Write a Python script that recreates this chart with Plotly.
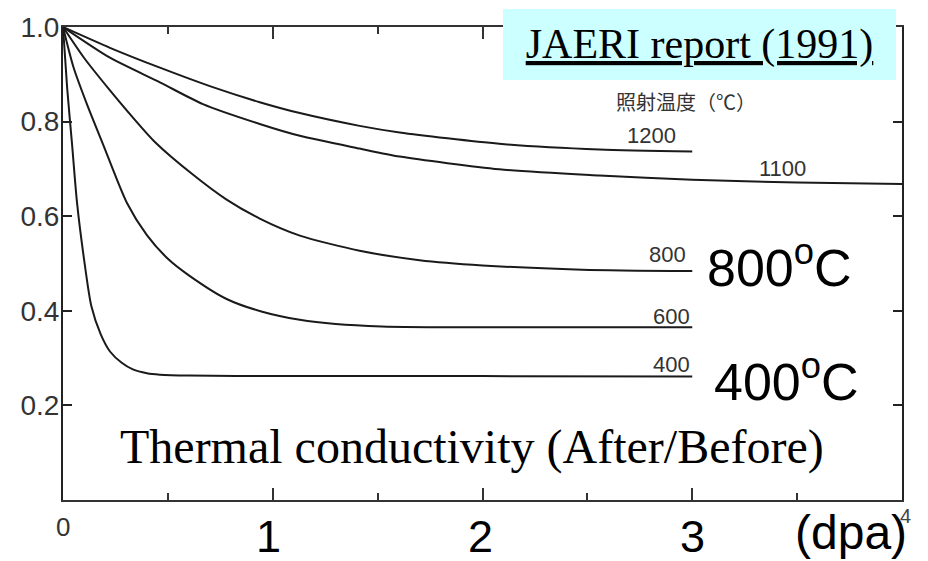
import plotly.graph_objects as go

# ---- data (dpa vs thermal conductivity ratio) ----
x400 = [0, 0.02, 0.043, 0.067, 0.10, 0.135, 0.18, 0.224, 0.28, 0.333, 0.40, 0.462, 0.60, 1.0, 2.0, 3.0]
v400 = [1.0, 0.87, 0.753, 0.628, 0.51, 0.41, 0.35, 0.314, 0.29, 0.276, 0.268, 0.265, 0.263, 0.262, 0.262, 0.261]

x600 = [0, 0.05, 0.114, 0.19, 0.305, 0.40, 0.50, 0.60, 0.78, 0.95, 1.129, 1.30, 1.52, 2.0, 3.0]
v600 = [1.0, 0.915, 0.837, 0.753, 0.628, 0.56, 0.51, 0.475, 0.425, 0.398, 0.381, 0.372, 0.367, 0.365, 0.365]

x800 = [0, 0.1, 0.224, 0.35, 0.438, 0.619, 0.78, 0.938, 1.129, 1.414, 1.70, 2.0, 2.476, 3.0]
v800 = [1.0, 0.935, 0.866, 0.80, 0.757, 0.688, 0.635, 0.595, 0.559, 0.527, 0.507, 0.496, 0.487, 0.484]

x1100 = [0, 0.224, 0.462, 0.667, 0.938, 1.129, 1.414, 1.605, 2.08, 2.557, 3.0, 3.5, 4.0]
v1100 = [1.0, 0.935, 0.883, 0.837, 0.795, 0.770, 0.743, 0.726, 0.699, 0.686, 0.677, 0.671, 0.668]

x1200 = [0, 0.224, 0.462, 0.70, 0.938, 1.129, 1.414, 1.605, 2.08, 2.557, 3.0]
v1200 = [1.0, 0.956, 0.914, 0.875, 0.841, 0.818, 0.791, 0.777, 0.753, 0.741, 0.737]

series = [("400", x400, v400), ("600", x600, v600), ("800", x800, v800),
          ("1100", x1100, v1100), ("1200", x1200, v1200)]

y_tickvals = [0.2, 0.4, 0.6, 0.8, 1.0]
y_ticktext = ["0.2", "0.4", "0.6", "0.8", "1.0"]
x_ticklabels = ["1", "2", "3"]

fig = go.Figure()
for name, xs, vs in series:
    fig.add_trace(go.Scatter(x=xs, y=vs, mode="lines", name=name,
                             line=dict(color="#1a1a1a", width=2, shape="spline", smoothing=0.7),
                             showlegend=False, hoverinfo="skip"))

SERIF = "Liberation Serif, Times New Roman, serif"
SANS = "Liberation Sans, Arial, sans-serif"
NARROW = "Liberation Sans Narrow, Liberation Sans, Arial, sans-serif"
CJK = "Noto Sans CJK JP, Noto Sans CJK SC, sans-serif"

ann = []


def add(text, x, y, font, xref="x", yref="y", **kw):
    d = dict(x=x, y=y, xref=xref, yref=yref, text=text, showarrow=False,
             xanchor="center", yanchor="middle", font=font)
    d.update(kw)
    ann.append(d)


# curve labels
curve_labels = [("1200", 2.808, 0.770), ("1100", 3.428, 0.701), ("800", 2.884, 0.519),
                ("600", 2.899, 0.387), ("400", 2.899, 0.287)]
for t, xx, yy in curve_labels:
    add(t, xx, yy, dict(family=NARROW, size=22, color="#333"))
add("照射温度（℃）", 2.97, 0.843, dict(family=CJK, size=20, color="#333"))
add("800<sup>o</sup>C", 3.418, 0.50, dict(family=SANS, size=52, color="black"))
add("400<sup>o</sup>C", 3.447, 0.257, dict(family=SANS, size=52, color="black"))
add("Thermal conductivity (After/Before)", 1.95, 0.113,
    dict(family=SERIF, size=48, color="black"))
# JAERI box
add("<u>JAERI report (1991)</u>", 0.7587, 0.9634, dict(family=SERIF, size=42, color="black"),
    xref="paper", yref="paper", bgcolor="#CCFFFF", width=393, height=71,
    borderpad=0, borderwidth=0)
# x tick labels
add("0", 0, -0.058, dict(family=SANS, size=26, color="#333"), yref="paper")
for i, t in enumerate(x_ticklabels):
    add(t, [0.98, 1.99, 3.0][i], -0.077, dict(family=SANS, size=45, color="black"),
        yref="paper")
add("(dpa)", 3.757, -0.069, dict(family=SANS, size=48, color="black"), yref="paper")
add("4", 1.0036, -0.033, dict(family=NARROW, size=20, color="#444"), xref="paper",
    yref="paper")

fig.update_layout(
    width=928, height=561,
    margin=dict(l=63, r=26, t=22, b=61),
    paper_bgcolor="white", plot_bgcolor="white",
    annotations=ann,
    xaxis=dict(range=[0, 4], tickvals=[1, 2, 3], ticks="inside", ticklen=12, tickwidth=2,
               tickcolor="#333", showticklabels=False, showgrid=False, zeroline=False,
               showline=True, linecolor="#333", linewidth=2, mirror="ticks",
               minor=dict(dtick=0.5, tick0=0, ticks="inside", ticklen=7, tickwidth=2,
                          tickcolor="#333", showgrid=False)),
    yaxis=dict(range=[0, 1], tickvals=y_tickvals, ticktext=y_ticktext, ticks="inside",
               ticklen=9, tickwidth=2, tickcolor="#222", showgrid=False, zeroline=False,
               showline=True, linecolor="#222", linewidth=2, mirror="ticks",
               tickfont=dict(family=SANS, size=28, color="#333"), ticklabelstandoff=-4),
)

fig.write_html("out.html")
